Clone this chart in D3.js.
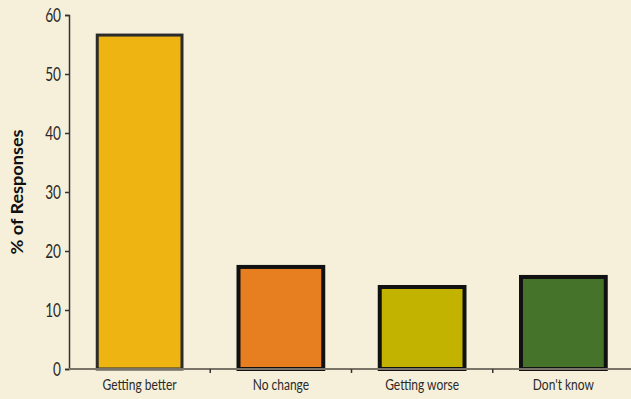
<!DOCTYPE html>
<html>
<head>
<meta charset="utf-8">
<script src="https://cdn.jsdelivr.net/npm/d3@7"></script>
<style>
  html, body { margin: 0; padding: 0; background: #f6f0da; }
  svg { display: block; }
</style>
</head>
<body>
<script>
// Survey responses: direction of change
const categories = ["Getting better", "No change", "Getting worse", "Don't know"];
const values = [56.6, 17.3, 13.9, 15.6];
const barColors = ["#eeb412", "#e77f20", "#c1b300", "#46732a"];
const barStrokes = ["#2b2b2b", "#111", "#111", "#111"];
const yTicks = [0, 10, 20, 30, 40, 50, 60];
const yLabel = "% of Responses";

const FONT = "Lato, 'DejaVu Sans Condensed', sans-serif";
const width = 631, height = 399;
const margin = { top: 15, right: -3, bottom: 30, left: 69 };

// squeeze a text element horizontally around its own anchor
function condense(sel, s) {
  sel.each(function () {
    const t = d3.select(this);
    const x0 = +t.attr("x") || 0;
    const y0 = +t.attr("y") || 0;
    t.attr("transform", `translate(${x0},${y0}) scale(${s},1)`)
      .attr("x", 0).attr("y", 0);
  });
}

const svg = d3.select("body").append("svg")
  .attr("width", width).attr("height", height);

const x = d3.scaleBand()
  .domain(categories)
  .range([margin.left, width - margin.right])
  .paddingInner(0.4)
  .paddingOuter(0.2);

const y = d3.scaleLinear()
  .domain([0, 60])
  .range([height - margin.bottom, margin.top]);

// bars
svg.append("g").selectAll("rect")
  .data(categories)
  .join("rect")
  .attr("x", d => x(d))
  .attr("y", (d, i) => y(values[i]))
  .attr("width", x.bandwidth())
  .attr("height", (d, i) => y(0) - y(values[i]))
  .attr("fill", (d, i) => barColors[i])
  .attr("stroke", (d, i) => barStrokes[i])
  .attr("stroke-width", (d, i) => i === 0 ? 3 : 4);

// y axis
const yAxis = svg.append("g")
  .attr("transform", `translate(${margin.left},0)`)
  .call(d3.axisLeft(y).tickValues(yTicks).tickSize(4).tickPadding(4).tickFormat(d3.format("d")));
yAxis.select(".domain").attr("stroke", "#333").attr("stroke-width", 1.5);
yAxis.selectAll(".tick line").attr("stroke", "#333").attr("stroke-width", 1.5);
yAxis.selectAll(".tick text")
  .attr("dy", "0.36em")
  .style("font-family", FONT)
  .style("font-size", "19px")
  .attr("fill", "#2a2a2a")
  .call(condense, 0.72);

// x axis: ticks at band boundaries
const xAxis = svg.append("g")
  .attr("transform", `translate(0,${y(0)})`);
xAxis.append("line")
  .attr("x1", margin.left).attr("x2", width)
  .attr("stroke", "#7a7468").attr("stroke-width", 2);
const step = x.step();
xAxis.selectAll(".sep")
  .data(categories.slice(1))
  .join("line")
  .attr("class", "sep")
  .attr("x1", d => x(d) - step * 0.2)
  .attr("x2", d => x(d) - step * 0.2)
  .attr("y1", 0).attr("y2", 4)
  .attr("stroke", "#333").attr("stroke-width", 1.5);
xAxis.selectAll(".lbl")
  .data(categories)
  .join("text")
  .attr("class", "lbl")
  .attr("x", d => x(d) + x.bandwidth() / 2)
  .attr("y", 21)
  .attr("text-anchor", "middle")
  .style("font-family", FONT)
  .style("font-size", "15px")
  .attr("fill", "#2a2a2a")
  .text(d => d)
  .call(condense, 0.8);

// y axis title
svg.append("text")
  .attr("transform", `translate(23,${(y(0) + y(60)) / 2}) rotate(-90)`)
  .attr("text-anchor", "middle")
  .style("font-family", FONT)
  .style("font-size", "17px")
  .style("font-weight", "bold")
  .attr("fill", "#111")
  .attr("textLength", 125)
  .attr("lengthAdjust", "spacingAndGlyphs")
  .text(yLabel);
</script>
</body>
</html>
